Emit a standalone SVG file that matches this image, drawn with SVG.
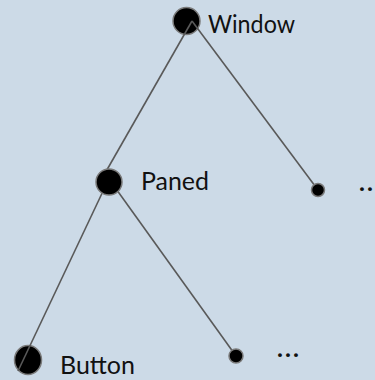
<svg xmlns="http://www.w3.org/2000/svg" width="375" height="380" viewBox="0 0 375 380">
<style>
.bg{fill:#ccdae7}
.edge{stroke:#595959;stroke-width:1.6;fill:none}
.node{fill:#000;stroke:#7a7a7a;stroke-width:1.5}
.lbl{font-family:Lato,"Open Sans","Liberation Sans",sans-serif;font-size:25px;fill:#111}
.dots{font-family:Lato,"Open Sans","Liberation Sans",sans-serif;font-size:25px;fill:#111;letter-spacing:2px;font-weight:bold}
</style>
<rect class="bg" x="0" y="0" width="375" height="380"/>
<g id="node-window"><circle class="node" cx="186.5" cy="21" r="13.5"/><text class="lbl" x="208" y="33" textLength="87" lengthAdjust="spacingAndGlyphs">Window</text></g>
<g id="node-button"><ellipse class="node" cx="28" cy="360" rx="13.5" ry="14.5"/><text class="lbl" x="60" y="374" textLength="75" lengthAdjust="spacingAndGlyphs">Button</text></g>
<g id="connectors">
<line class="edge" x1="192" y1="21" x2="104" y2="175"/>
<line class="edge" x1="192" y1="21" x2="318" y2="190"/>
<line class="edge" x1="105" y1="187" x2="18" y2="371"/>
<line class="edge" x1="114" y1="186" x2="236" y2="356"/>
</g>
<g id="node-paned"><circle class="node" cx="109" cy="182" r="13"/><text class="lbl" x="141" y="190" textLength="68" lengthAdjust="spacingAndGlyphs">Paned</text></g>
<g id="node-leaf1"><circle class="node" cx="318" cy="190" r="6.5"/><text class="dots" x="359" y="191">...</text></g>
<g id="node-leaf2"><circle class="node" cx="236" cy="356" r="7"/><text class="dots" x="277" y="357">...</text></g>
</svg>
